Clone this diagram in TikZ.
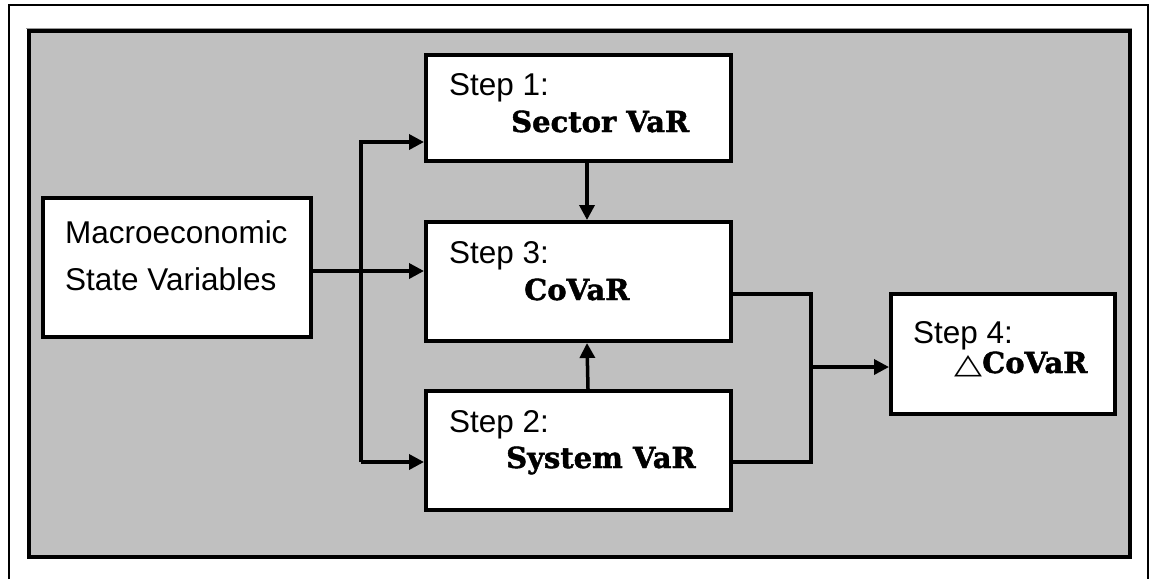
\documentclass[tikz,border=0pt]{standalone}
\usepackage{graphicx}
\usepackage{fontspec}
\setmainfont{Liberation Sans}
\newfontfamily\bserif[BoldFeatures={FakeBold=1.5}]{DejaVu Serif}
\newfontfamily\symf{DejaVu Sans}
\usetikzlibrary{arrows.meta}
\definecolor{panelgray}{RGB}{192,192,192}
\begin{document}
\begin{tikzpicture}[x=1pt,y=-1pt,
  box/.style={draw=black, fill=white, line width=4pt, inner sep=0pt},
  conn/.style={line width=3.5pt, line join=miter},
  arr/.style={conn, -{Triangle[length=15pt,width=15pt]}},
  lbl/.style={inner sep=0pt, anchor=base west, font=\fontsize{31.5}{36}\selectfont},
  big/.style={inner sep=0pt, anchor=base west, font=\fontsize{29}{32}\selectfont\bserif\bfseries}]
\useasboundingbox (0,0) rectangle (1149,579);
% outer frame
\draw[line width=1.8pt] (9,579) -- (9,5) -- (1148,5) -- (1148,579);
% gray panel
\draw[gray!80, line width=1pt] (26,28) -- (1132,28);
\draw[fill=panelgray, line width=4.5pt] (29,31) rectangle (1130,557);
% boxes
\node[box, minimum width=268pt, minimum height=139pt] (macro) at (177,267.5) {};
\node[box, minimum width=305pt, minimum height=106pt] (step1) at (578.5,108) {};
\node[box, minimum width=305pt, minimum height=119pt] (step3) at (578.5,281.5) {};
\node[box, minimum width=305pt, minimum height=119pt] (step2) at (578.5,450.5) {};
\node[box, minimum width=224pt, minimum height=120pt] (step4) at (1003,354) {};
% texts
\node[lbl] (t1) at (65,243) {Macroeconomic};
\node[lbl] (t2) at (65,290) {State Variables};
\node[lbl] (s1) at (449,95) {Step 1:};
\node[big] (n1) at (511,132) {Sector VaR};
\node[lbl] (s3) at (449,263) {Step 3:};
\node[big] (n3) at (524,300) {CoVaR};
\node[lbl] (s2) at (449,432) {Step 2:};
\node[big] (n2) at (506,468) {System VaR};
\node[lbl] (s4) at (913,343) {Step 4:};
\node[big] (n4) at (954,373) {\scalebox{1.3}[1]{\symf\mdseries\fontsize{28}{30}\selectfont △}CoVaR};
% junction coordinates
\coordinate (bt) at (361,142);
\coordinate (bb) at (361,462);
\coordinate (bm) at (361,271);
\coordinate (v1) at (587,0);
\coordinate (v2) at (588,0);
\coordinate (rt) at (811,294);
\coordinate (rb) at (811,462);
\coordinate (rm) at (811,367);
% connectors
\draw[arr] (macro.east |- bm) -- (step3.west |- bm);
\draw[arr] (bb) -- (bt) -- (step1.west |- bt);
\draw[arr] (bb) -- (step2.west |- bb);
\draw[arr] (step1.south -| v1) -- (step3.north -| v1);
\draw[arr] (step2.north -| v2) -- (step3.south -| v1);
\draw[conn] (step3.east |- rt) -- (rt) -- (rb) -- (step2.east |- rb);
\draw[arr] (rm) -- (step4.west |- rm);
\end{tikzpicture}
\end{document}
